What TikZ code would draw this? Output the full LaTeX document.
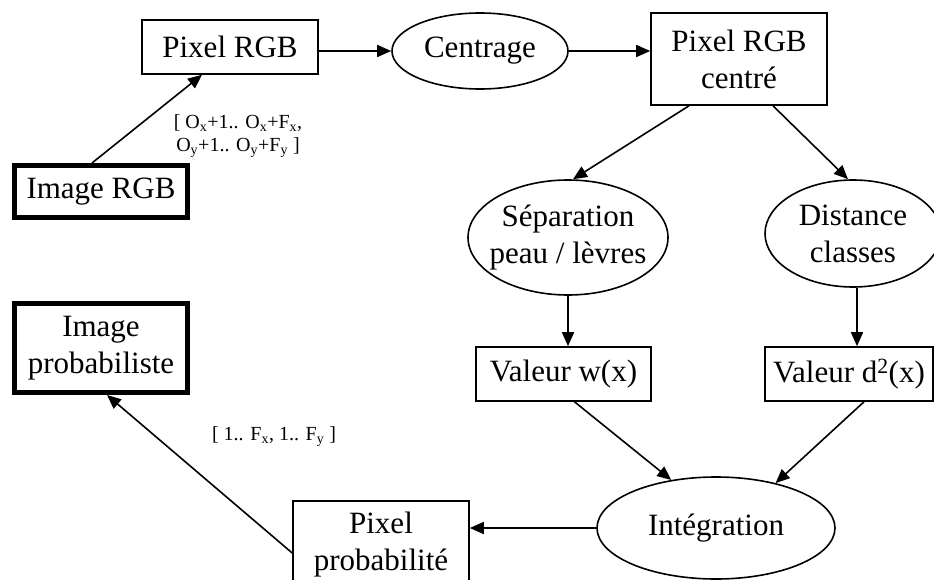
\documentclass[tikz,border=0pt]{standalone}
\usepackage{fontspec}
\setmainfont{Liberation Serif}
\usetikzlibrary{shapes.geometric,arrows.meta}
\tikzset{
  box/.style={draw, line width=1.6pt, inner sep=0pt, align=center, font=\fontsize{31}{37}\selectfont},
  thickbox/.style={box, line width=5pt},
  ell/.style={draw, ellipse, line width=1.6pt, inner sep=0pt},
  lbl/.style={align=center, inner sep=0pt, font=\fontsize{31}{37}\selectfont},
  small/.style={align=center, inner sep=0pt, font=\fontsize{20}{23}\selectfont},
  arr/.style={line width=1.6pt, -{Triangle[length=14pt,width=12pt]}}
}
\begin{document}
\begin{tikzpicture}[x=1pt,y=-1pt]
\useasboundingbox (0,0) rectangle (934,580);
\node[box, minimum width=176pt, minimum height=54pt] (pix) at (230,47) {Pixel RGB};
\node[thickbox, minimum width=173pt, minimum height=52pt] (img) at (101,191.5) {Image RGB};
\node[ell, minimum width=176pt, minimum height=76pt, label={[lbl]center:Centrage}] (cen) at (480,51) {};
\node[box, minimum width=176pt, minimum height=92pt] (pc) at (739,59) {Pixel RGB\\centré};
\node[ell, minimum width=200pt, minimum height=115pt, label={[lbl]center:Séparation\\peau / lèvres}] (sep) at (568,237.5) {};
\node[ell, minimum width=176pt, minimum height=107pt, label={[lbl]center:Distance\\classes}] (dist) at (853,233.5) {};
\node[box, minimum width=175pt, minimum height=54pt] (vw) at (563.5,374) {Valeur w(x)};
\node[box, minimum width=168pt, minimum height=54pt] (vd) at (849,374) {Valeur d\textsuperscript{2}(x)};
\node[thickbox, minimum width=173pt, minimum height=89pt] (ip) at (101,348) {Image\\probabiliste};
\node[box, minimum width=176pt, minimum height=88pt] (pp) at (381,545) {Pixel\\probabilité};
\node[ell, minimum width=238pt, minimum height=102pt, label={[lbl]center:Intégration}] (int) at (716,528) {};
\node[small] (l1) at (238,136) {[ O\textsubscript{x}+1.. O\textsubscript{x}+F\textsubscript{x},\\O\textsubscript{y}+1.. O\textsubscript{y}+F\textsubscript{y} ]};
\node[small] (l2) at (274,437) {[ 1.. F\textsubscript{x}, 1.. F\textsubscript{y} ]};
\draw[arr] ([xshift=-9pt]img.north) -- ([xshift=-28pt]pix.south);
\draw[arr] (pix.east |- cen.west) -- (cen.west);
\draw[arr] (cen.east) -- (cen.east -| pc.west);
\draw[arr] ([xshift=-50pt]pc.south) -- ([xshift=5pt]sep.north);
\draw[arr] ([xshift=34pt]pc.south) -- ([xshift=-5pt]dist.north);
\draw[arr] (sep.south) -- (sep.south |- vw.north);
\draw[arr] ([xshift=4pt]dist.south) -- ([xshift=4pt]dist.south |- vd.north);
\draw[arr] ([xshift=11pt]vw.south) -- (int.133);
\draw[arr] ([xshift=15pt]vd.south) -- (int.37);
\draw[arr] (int.west) -- (int.west -| pp.east);
\draw[arr] ([yshift=-8pt]pp.west) -- ([xshift=6pt]ip.south);
\end{tikzpicture}
\end{document}
